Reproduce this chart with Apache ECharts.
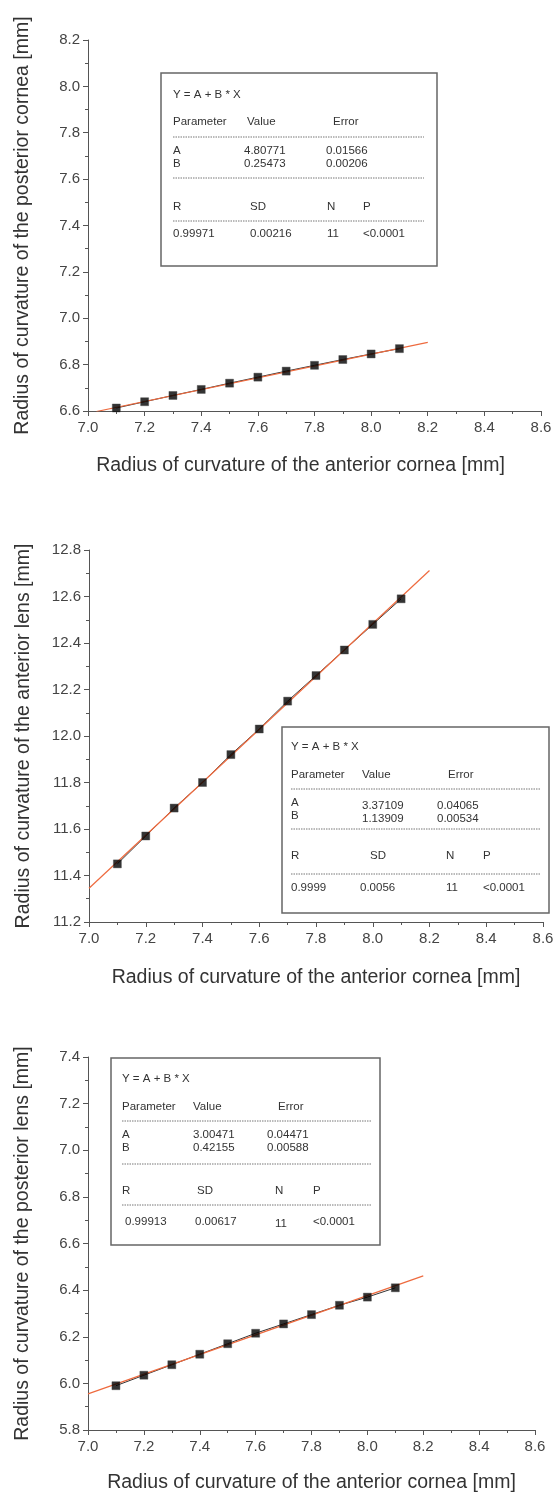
<!DOCTYPE html>
<html>
<head>
<meta charset="utf-8">
<script src="https://cdn.jsdelivr.net/npm/echarts@6/dist/echarts.min.js"></script>
<style>
  html, body { margin: 0; padding: 0; background: #fff; }
  #main { width: 557px; height: 1494px; }
</style>
</head>
<body>
<div id="main"></div>
<script>
// data
var xValues = [7.1, 7.2, 7.3, 7.4, 7.5, 7.6, 7.7, 7.8, 7.9, 8.0, 8.1];
var postCornea = [6.613, 6.640, 6.667, 6.693, 6.720, 6.746, 6.772, 6.797, 6.822, 6.846, 6.869];
var antLens = [11.45, 11.57, 11.69, 11.80, 11.92, 12.03, 12.15, 12.26, 12.37, 12.48, 12.59];
var postLens = [5.99, 6.035, 6.08, 6.125, 6.17, 6.215, 6.255, 6.295, 6.335, 6.37, 6.41];

// fitted lines, ends as drawn
var fit1 = [[7.03, 6.598], [8.2, 6.896]];
var fit2 = [[7.0, 11.345], [8.2, 12.712]];
var fit3 = [[7.0, 5.955], [8.2, 6.461]];

var xTitle = 'Radius of curvature of the anterior cornea [mm]';
var yTitles = [
  'Radius of curvature of the posterior cornea [mm]',
  'Radius of curvature of the anterior lens [mm]',
  'Radius of curvature of the posterior lens [mm]'
];
var yMin = [6.6, 11.2, 5.8];
var yMax = [8.2, 12.8, 7.4];

// stats table text
var stats1 = { A: ['4.80771', '0.01566'], B: ['0.25473', '0.00206'], row: ['0.99971', '0.00216', '11', '<0.0001'] };
var stats2 = { A: ['3.37109', '0.04065'], B: ['1.13909', '0.00534'], row: ['0.9999', '0.0056', '11', '<0.0001'] };
var stats3 = { A: ['3.00471', '0.04471'], B: ['0.42155', '0.00588'], row: ['0.99913', '0.00617', '11', '<0.0001'] };

var FONT = '"Liberation Sans", Arial, sans-serif';

function pairs(ys) {
  return xValues.map(function (x, i) { return [x, ys[i]]; });
}

function xAxisOf(i, gap, pad) {
  return {
    type: 'value', gridIndex: i, min: 7.0, max: 8.6, interval: 0.2,
    name: xTitle, nameLocation: 'middle', nameGap: gap,
    nameTextStyle: { fontSize: 19.5, color: '#333', fontFamily: FONT, padding: pad },
    axisLine: { lineStyle: { color: '#555', width: 1 } },
    axisTick: { length: 5, lineStyle: { color: '#555' } },
    minorTick: { show: true, splitNumber: 2, length: 3, lineStyle: { color: '#555' } },
    axisLabel: { fontSize: 15, color: '#444', fontFamily: FONT, margin: 9,
      formatter: function (v) { return v.toFixed(1); } },
    splitLine: { show: false }
  };
}

function yAxisOf(i) {
  return {
    type: 'value', gridIndex: i, min: yMin[i], max: yMax[i], interval: 0.2,
    name: yTitles[i], nameLocation: 'middle', nameGap: 55,
    nameTextStyle: { fontSize: 19.5, color: '#333', fontFamily: FONT },
    axisLine: { show: true, lineStyle: { color: '#555', width: 1 } },
    axisTick: { show: true, length: 5, lineStyle: { color: '#555' } },
    minorTick: { show: true, splitNumber: 2, length: 3, lineStyle: { color: '#555' } },
    axisLabel: { fontSize: 15, color: '#444', fontFamily: FONT, margin: 8,
      formatter: function (v) { return v.toFixed(1); } },
    splitLine: { show: false }
  };
}

function seriesOf(i, ys, fit) {
  var d = pairs(ys);
  return [
    { type: 'line', xAxisIndex: i, yAxisIndex: i, data: d, showSymbol: false, z: 2,
      lineStyle: { color: '#333', width: 1 }, silent: true },
    { type: 'line', xAxisIndex: i, yAxisIndex: i, data: fit, showSymbol: false, z: 3,
      lineStyle: { color: '#ee6a3e', width: 1.2 }, silent: true },
    { type: 'scatter', xAxisIndex: i, yAxisIndex: i, data: d, symbol: 'rect', symbolSize: 8, z: 4,
      itemStyle: { color: '#000', borderColor: '#444', borderWidth: 0.5 } }
  ];
}

// stats box drawn with graphic elements; lay = offsets inside the box
function statBox(x0, y0, w, h, st, lay) {
  var els = [];
  els.push({ type: 'rect', shape: { x: x0, y: y0, width: w, height: h },
    style: { fill: '#fff', stroke: '#666', lineWidth: 1.5 }, z: 10 });
  function txt(s, x, y) {
    els.push({ type: 'text', z: 11, style: { text: s, x: x0 + x, y: y0 + y, fill: '#333',
      font: '11.5px ' + FONT, verticalAlign: 'middle' } });
  }
  function dash(y) {
    els.push({ type: 'line', z: 11, shape: { x1: x0 + lay.c0, y1: y0 + y, x2: x0 + lay.dEnd, y2: y0 + y },
      style: { stroke: '#777', lineWidth: 1, lineDash: [1.5, 1] } });
  }
  txt('Y = A + B * X', lay.c0, lay.rows[0]);
  txt('Parameter', lay.c0, lay.rows[1]);
  txt('Value', lay.hVal, lay.rows[1]);
  txt('Error', lay.hErr, lay.rows[1]);
  dash(lay.rows[2]);
  txt('A', lay.c0, lay.rows[3]);
  txt(st.A[0], lay.cVal, lay.rows[3] + lay.vOff);
  txt(st.A[1], lay.cErr, lay.rows[3] + lay.vOff);
  txt('B', lay.c0, lay.rows[4]);
  txt(st.B[0], lay.cVal, lay.rows[4] + lay.vOff);
  txt(st.B[1], lay.cErr, lay.rows[4] + lay.vOff);
  dash(lay.rows[5]);
  txt('R', lay.c0, lay.rows[6]);
  txt('SD', lay.cSD, lay.rows[6]);
  txt('N', lay.cN, lay.rows[6]);
  txt('P', lay.cP, lay.rows[6]);
  dash(lay.rows[7]);
  txt(st.row[0], lay.r0, lay.rows[8]);
  txt(st.row[1], lay.r1, lay.rows[8]);
  txt(st.row[2], lay.cN, lay.rows[8] + lay.nOff);
  txt(st.row[3], lay.cP, lay.rows[8]);
  return els;
}

var chart = echarts.init(document.getElementById('main'));

var graphics = []
  .concat(statBox(161, 73, 276, 193, stats1, {
    c0: 12, dEnd: 263, hVal: 86, hErr: 172, cVal: 83, cErr: 165, cSD: 89, cN: 166, cP: 202,
    r0: 12, r1: 89, vOff: 0, nOff: 0, rows: [22, 49, 64, 78, 91, 105, 134, 148, 161] }))
  .concat(statBox(282, 727, 267, 186, stats2, {
    c0: 9, dEnd: 258, hVal: 80, hErr: 166, cVal: 80, cErr: 155, cSD: 88, cN: 164, cP: 201,
    r0: 9, r1: 78, vOff: 3, nOff: 0, rows: [20, 48, 62, 76, 89, 102, 129, 147, 161] }))
  .concat(statBox(111, 1058, 269, 187, stats3, {
    c0: 11, dEnd: 261, hVal: 82, hErr: 167, cVal: 82, cErr: 156, cSD: 86, cN: 164, cP: 202,
    r0: 14, r1: 84, vOff: 0, nOff: 2, rows: [21, 49, 63, 77, 90, 106, 133, 147, 164] }));

chart.setOption({
  backgroundColor: '#fff',
  animation: false,
  grid: [
    { left: 88, top: 40, width: 453, height: 371 },
    { left: 89, top: 550, width: 454, height: 372 },
    { left: 88, top: 1057, width: 447, height: 375 }
  ],
  xAxis: [xAxisOf(0, 45, [0, 28, 0, 0]), xAxisOf(1, 46, [0, 0, 0, 0]), xAxisOf(2, 43, [0, 0, 0, 0])],
  yAxis: [yAxisOf(0), yAxisOf(1), yAxisOf(2)],
  series: []
    .concat(seriesOf(0, postCornea, fit1))
    .concat(seriesOf(1, antLens, fit2))
    .concat(seriesOf(2, postLens, fit3)),
  graphic: graphics
});
</script>
</body>
</html>
